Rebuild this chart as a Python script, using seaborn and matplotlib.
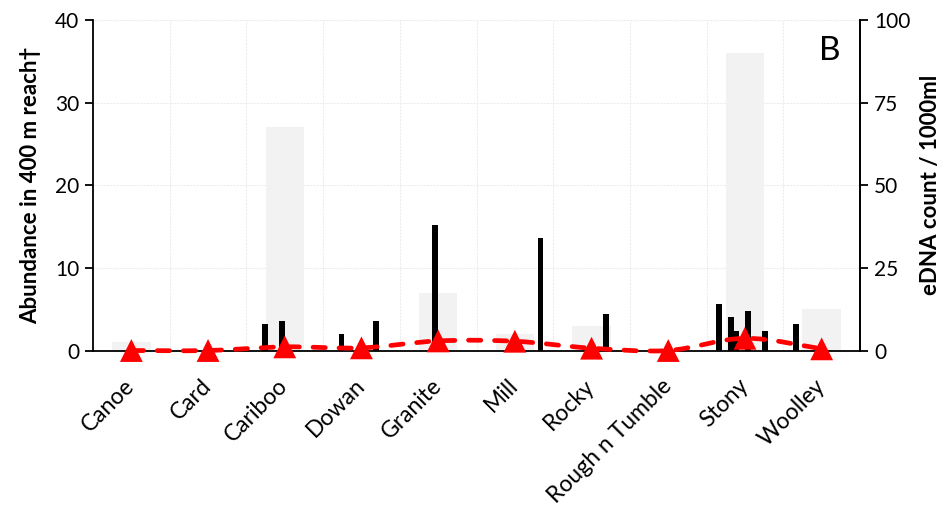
import numpy as np
import pandas as pd
import matplotlib
matplotlib.use("Agg")
import matplotlib.pyplot as plt
import seaborn as sns
from matplotlib.path import Path
from matplotlib.patches import PathPatch

# ---- data -------------------------------------------------------------
streams = ["Canoe", "Card", "Cariboo", "Dowan", "Granite", "Mill",
           "Rocky", "Rough n Tumble", "Stony", "Woolley"]

# fish counted by electrofishing in a 400 m reach (left axis)
abundance = [1, 0, 27, 0, 7, 2, 3, 0, 36, 5]

# eDNA counts for the ten water-sample replicates at each stream (right axis)
replicates = [f"R{i + 1}" for i in range(10)]
edna_reps = [
    [0, 0, 0, 0, 0, 0, 0, 0, 0, 0],      # Canoe
    [0, 0, 0, 0, 0, 0, 0, 0, 0, 0],      # Card
    [0, 8, 0, 0, 9, 0, 0, 0, 0, 0],      # Cariboo
    [0, 5, 0, 0, 0, 0, 0, 9, 0, 0],      # Dowan
    [0, 0, 0, 0, 38, 0, 0, 0, 0, 0],     # Granite
    [0, 0, 0, 0, 0, 0, 0, 0, 0, 34],     # Mill
    [0, 0, 0, 0, 0, 0, 0, 11, 0, 0],     # Rocky
    [0, 0, 0, 0, 0, 0, 0, 0, 0, 0],      # Rough n Tumble
    [14, 0, 10, 6, 0, 12, 0, 0, 6, 0],   # Stony
    [8, 0, 0, 0, 0, 0, 0, 0, 0, 0],      # Woolley
]

# average eDNA count per stream (right axis)
edna_mean = [0, 0, 1.1, 0.8, 2.9, 2.8, 0.7, 0, 3.7, 0.5]

left_ticks = [0, 10, 20, 30, 40]
right_ticks = [0, 25, 50, 75, 100]

# ---- long-form tables ---------------------------------------------------
abund_df = pd.DataFrame({"stream": streams, "abundance": abundance})
edna_df = pd.DataFrame(
    [(s, r, v) for s, row in zip(streams, edna_reps) for r, v in zip(replicates, row)],
    columns=["stream", "replicate", "count"],
)

# ---- style --------------------------------------------------------------
sns.set_style("white")
plt.rcParams["font.family"] = ["Lato", "DejaVu Sans"]
plt.rcParams["text.color"] = "black"
plt.rcParams["axes.labelcolor"] = "black"
plt.rcParams["xtick.color"] = "black"
plt.rcParams["ytick.color"] = "black"

fig = plt.figure(figsize=(9.43, 5.11), dpi=100)
ax1 = fig.add_axes([93 / 943, 1 - 350.5 / 511, (860 - 93) / 943, (350.5 - 20) / 511])
ax2 = ax1.twinx()

# light-grey abundance columns
sns.barplot(data=abund_df, x="stream", y="abundance", order=streams,
            color="#F2F2F2", saturation=1, width=0.5, linewidth=0,
            errorbar=None, ax=ax1)

# black eDNA replicate columns
sns.barplot(data=edna_df, x="stream", y="count", hue="replicate",
            order=streams, hue_order=replicates,
            palette=["black"] * len(replicates), saturation=1,
            width=0.743, gap=0, dodge=True, linewidth=0,
            errorbar=None, legend=False, ax=ax2)

# smoothed dashed line through the mean eDNA counts
xs = np.arange(len(streams), dtype=float)
ys = np.asarray(edna_mean, dtype=float)
pts = np.column_stack([xs, ys])
ext = np.vstack([pts[0], pts, pts[-1]])
verts = [tuple(pts[0])]
codes = [Path.MOVETO]
for i in range(len(pts) - 1):
    p0, p1, p2, p3 = ext[i], ext[i + 1], ext[i + 2], ext[i + 3]
    c1 = p1 + (p2 - p0) / 6.0
    c2 = p2 - (p3 - p1) / 6.0
    verts += [tuple(c1), tuple(c2), tuple(p2)]
    codes += [Path.CURVE4] * 3
ax2.add_patch(PathPatch(Path(verts, codes), facecolor="none", edgecolor="#FF0000",
                        linewidth=3.4, linestyle=(0, (2.6, 2.9)), capstyle="round",
                        transform=ax2.transData, zorder=5, clip_on=False))

sns.scatterplot(x=xs, y=ys, marker="^", s=270, color="#FF0000",
                edgecolor="none", linewidth=0, zorder=6, ax=ax2, legend=False,
                clip_on=False)

# ---- axes ---------------------------------------------------------------
ax1.set_ylim(0, 40)
ax2.set_ylim(0, 100)
ax1.set_xlim(-0.5, len(streams) - 0.5)
ax2.set_xlim(-0.5, len(streams) - 0.5)

ax1.set_yticks(left_ticks)
ax2.set_yticks(right_ticks)
ax1.set_xticks(range(len(streams)))
ax1.set_xticklabels(streams, rotation=45, ha="right", va="center",
                    rotation_mode="anchor")
ax1.set_xticks(np.arange(-0.5, len(streams)), minor=True)

ax1.tick_params(axis="x", which="major", length=0, pad=23, labelsize=16.5)
ax1.tick_params(axis="x", which="minor", length=7, width=1.3, direction="out")
ax1.tick_params(axis="y", length=6, width=1.3, direction="out", labelsize=15, pad=4)
ax2.tick_params(axis="y", length=6, width=1.3, direction="out", labelsize=15, pad=4)

ax1.grid(axis="y", which="major", color="#EDEDED", linestyle=(0, (2, 1)), linewidth=0.8)
ax1.grid(axis="x", which="minor", color="#EDEDED", linestyle=(0, (2, 1)), linewidth=0.8)
ax1.grid(axis="x", which="major", visible=False)
ax1.set_axisbelow(True)

for ax in (ax1, ax2):
    ax.spines["top"].set_visible(False)
    for side in ("left", "right", "bottom"):
        ax.spines[side].set_color("black")
        ax.spines[side].set_linewidth(1.3)
ax2.spines["left"].set_visible(False)
ax2.spines["bottom"].set_visible(False)

ax1.set_xlabel("")
ax1.set_ylabel("Abundance in 400 m reach\u2020", fontsize=16, fontweight="bold", labelpad=10)
ax2.set_ylabel("eDNA count / 1000ml", fontsize=16, fontweight="bold", labelpad=7)

ax1.text(0.961, 0.906, "B", transform=ax1.transAxes, fontsize=24,
         ha="center", va="center")

fig.savefig("out.png", dpi=100)
